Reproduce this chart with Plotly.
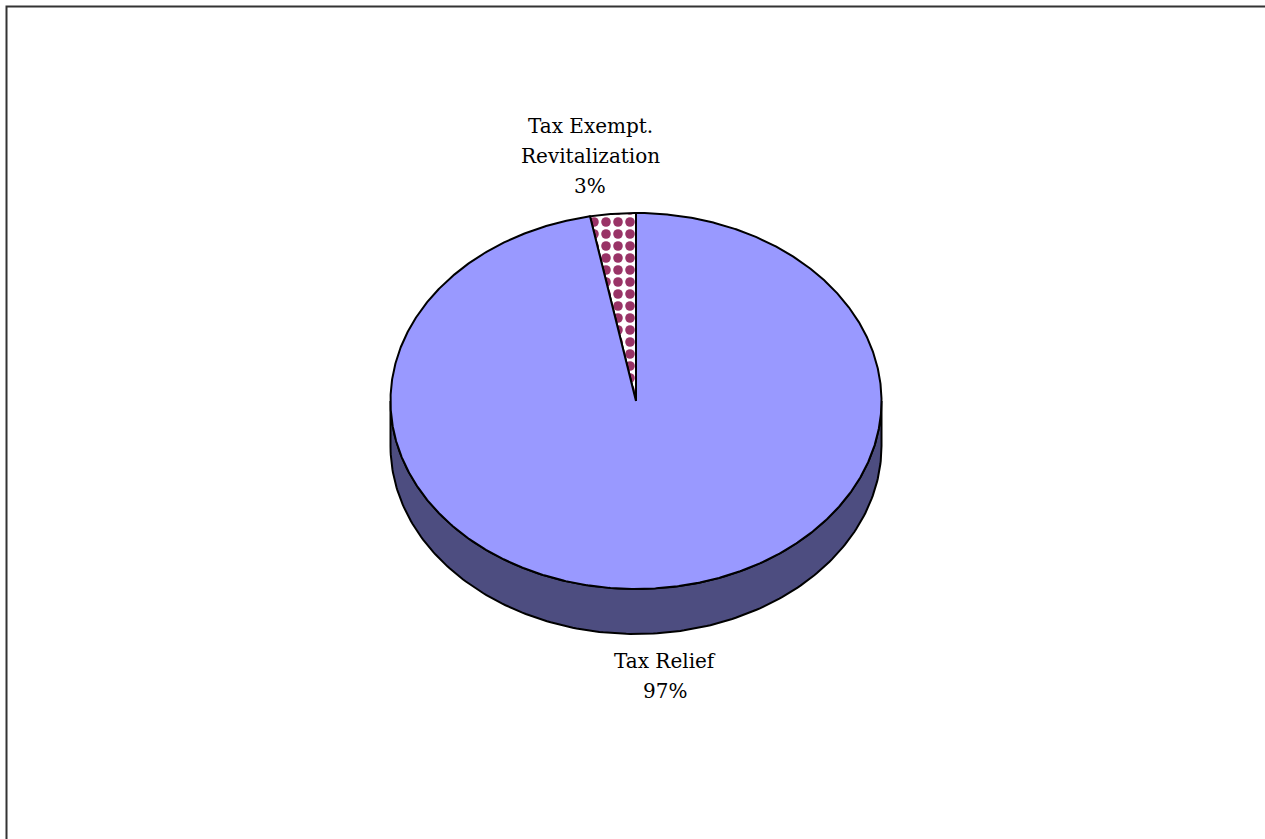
import numpy as np
import plotly.graph_objects as go

# ---- data ----
categories = ["Tax Exempt. Revitalization", "Tax Relief"]
label_lines = [["Tax Exempt.", "Revitalization"], ["Tax Relief"]]
values = [3, 97]

# ---- style / geometry (pixels) ----
W, H = 1265, 839
CX, CY = 636, 401          # centre of the top face
RX, RY = 245.5, 188        # ellipse radii
DEPTH = 45                 # thickness of the 3D pie
START = 90.0               # first slice starts at 12 o'clock, goes counter-clockwise
top_colors = ["white", "#9999FF"]
side_colors = ["#4D1A33", "#4D4D80"]
patterns = [dict(shape=".", fgcolor="#993366", bgcolor="white", size=12,
                 solidity=0.5, fgopacity=1), None]
label_pos = [(590, 126), (665, 661)]   # first-line centre of each label
LINE_H = 30
FONT = dict(family="DejaVu Serif", size=20, color="#000000")
EDGE = dict(color="black", width=2)


def ell(theta_deg, dy=0.0):
    t = np.radians(theta_deg)
    return CX + RX * np.cos(t), CY - RY * np.sin(t) + dy


total = float(sum(values))
fig = go.Figure()

# slice angle ranges from the values
ranges = []
a0 = START
for v in values:
    a1 = a0 + 360.0 * v / total
    ranges.append((a0, a1))
    a0 = a1

# side walls (front half: 180..360 deg, modulo 360)
for i, (s, e) in enumerate(ranges):
    for k in (0, 360):
        lo = max(s, 180 + k)
        hi = min(e, 360 + k)
        if hi > lo:
            th = np.linspace(lo, hi, 200)
            xt, yt = ell(th)
            xb, yb = ell(th[::-1], DEPTH)
            fig.add_trace(go.Scatter(
                x=np.concatenate([xt, xb, xt[:1]]),
                y=np.concatenate([yt, yb, yt[:1]]),
                mode="lines", fill="toself", fillcolor=side_colors[i],
                line=EDGE, hoverinfo="skip"))

# top faces
for i, (s, e) in enumerate(ranges):
    th = np.linspace(s, e, max(20, int((e - s) * 3)))
    xs, ys = ell(th)
    x = np.concatenate([[CX], xs, [CX]])
    y = np.concatenate([[CY], ys, [CY]])
    kw = dict(mode="lines", fill="toself", fillcolor=top_colors[i],
              line=EDGE, hoverinfo="skip", name=categories[i])
    if patterns[i] is not None:
        kw["fillpattern"] = patterns[i]
    fig.add_trace(go.Scatter(x=x, y=y, **kw))

# labels
annotations = []
for i, lines in enumerate(label_lines):
    pct = round(100.0 * values[i] / total)
    all_lines = lines + [f"{pct}%"]
    lx, ly = label_pos[i]
    for j, t in enumerate(all_lines):
        annotations.append(dict(x=lx, y=ly + j * LINE_H, xref="x", yref="y",
                                text=t, showarrow=False, font=FONT,
                                xanchor="center", yanchor="middle"))

fig.update_layout(
    width=W, height=H,
    margin=dict(l=0, r=0, t=0, b=0),
    paper_bgcolor="white", plot_bgcolor="white",
    showlegend=False, hovermode=False,
    xaxis=dict(range=[0, W], visible=False, fixedrange=True),
    yaxis=dict(range=[H, 0], visible=False, fixedrange=True),
    annotations=annotations,
    shapes=[dict(type="rect", xref="x", yref="y", x0=6.5, y0=6.5, x1=W + 20, y1=H + 20,
                 line=dict(color="#333333", width=2), layer="below")],
)

fig.write_html(
    "out.html",
    config={"displayModeBar": False},
    post_script="document.body.style.margin='0';document.body.style.overflow='hidden';",
)
